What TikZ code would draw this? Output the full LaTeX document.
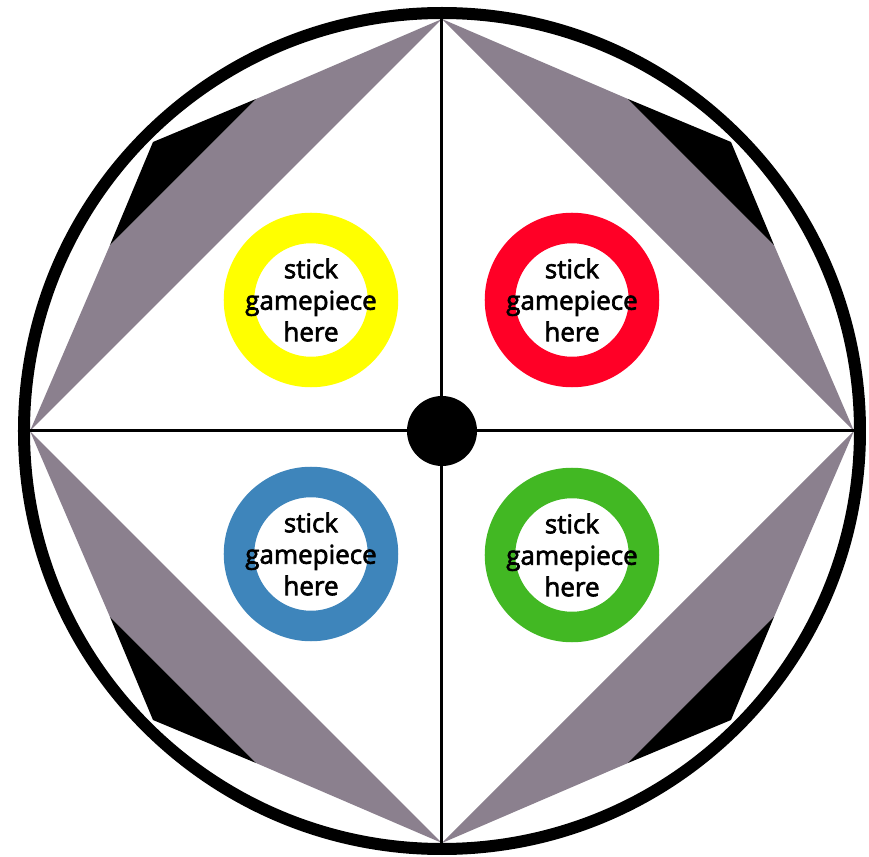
\documentclass[tikz,border=0pt]{standalone}
\usepackage{fontspec}
\newfontfamily\piecefont{Open Sans}[FakeBold=2.5]
\definecolor{vanegray}{RGB}{139,128,142}
\definecolor{pieceyellow}{RGB}{255,255,0}
\definecolor{piecered}{RGB}{255,0,38}
\definecolor{pieceblue}{RGB}{62,133,187}
\definecolor{piecegreen}{RGB}{66,184,35}
\tikzset{
  board rim/.style={draw=black, line width=6pt},
  spoke/.style={draw=black, line width=1.5pt},
  vane/.style={fill=vanegray},
  notch/.style={fill=black},
  hub/.style={circle, fill=black, minimum size=35pt, inner sep=0pt},
  piece ring/.style={circle, draw=#1, line width=15.25pt, minimum size=72pt, inner sep=0pt},
  piece text/.style={align=center, inner sep=0pt, font=\piecefont\fontsize{13}{15.75}\selectfont},
}

\begin{document}
\begin{tikzpicture}[x=0.5pt, y=0.5pt]
    \useasboundingbox (-442,-426) rectangle (427,431);
    \coordinate (top) at (0,412);
    \coordinate (bottom) at (0,-412);
    \coordinate (left) at (-412,0);
    \coordinate (right) at (412,0);

    \fill[vane] (left) -- (-332,186) -- (-186,332) -- (top) -- cycle;
    \fill[vane] (top) -- (186,332) -- (332,186) -- (right) -- cycle;
    \fill[vane] (right) -- (332,-186) -- (186,-332) -- (bottom) -- cycle;
    \fill[vane] (bottom) -- (-186,-332) -- (-332,-186) -- (left) -- cycle;

    \fill[notch] (-332,186) -- (-289,289) -- (-186,332) -- cycle;
    \fill[notch] (332,186) -- (289,289) -- (186,332) -- cycle;
    \fill[notch] (332,-186) -- (289,-289) -- (186,-332) -- cycle;
    \fill[notch] (-332,-186) -- (-289,-289) -- (-186,-332) -- cycle;

    \draw[spoke] (top) -- (bottom);
    \draw[spoke] (left) -- (right);
    \draw[board rim] (0,0) circle[radius=418];

    \node[hub] (hub) at (0,0) {};

    \node[piece ring=pieceyellow] (yellowring) at (-131,131) {};
    \node[piece ring=piecered] (redring) at (130,131) {};
    \node[piece ring=pieceblue] (bluering) at (-131,-123) {};
    \node[piece ring=piecegreen] (greenring) at (130,-124) {};

    \node[piece text] (yellowtext) at (yellowring.center) {stick\\gamepiece\\here};
    \node[piece text] (redtext) at (redring.center) {stick\\gamepiece\\here};
    \node[piece text] (bluetext) at (bluering.center) {stick\\gamepiece\\here};
    \node[piece text] (greentext) at (greenring.center) {stick\\gamepiece\\here};
\end{tikzpicture}
\end{document}
